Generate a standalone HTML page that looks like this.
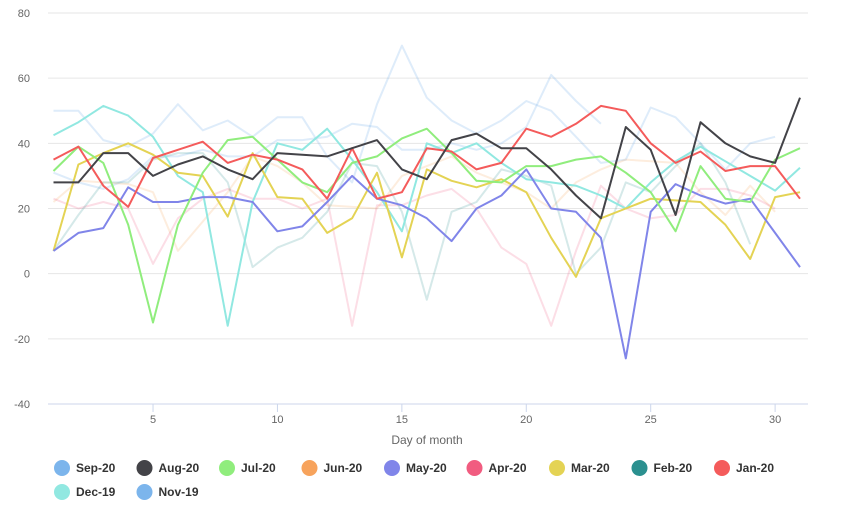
<!DOCTYPE html>
<html><head><meta charset="utf-8"><style>
body{margin:0;background:#fff;font-family:"Liberation Sans",sans-serif}
svg{display:block}
</style></head><body>
<svg id="chart" width="853" height="525"></svg>
<script>
const days=[];for(let d=1;d<=31;d++)days.push(d);
const yTicks=[80,60,40,20,0,-20,-40];
const xTicks=[5,10,15,20,25,30];
const seriesNames=["Sep-20","Aug-20","Jul-20","Jun-20","May-20","Apr-20","Mar-20","Feb-20","Jan-20","Dec-19","Nov-19"];
const seriesColors=["#7cb5ec","#434348","#90ed7d","#f7a35c","#8085e9","#f15c80","#e4d354","#2b908f","#f45b5b","#91e8e1","#7cb5ec"];
const seriesOpacity=[0.25,1,1,0.2,1,0.2,1,0.2,1,1,0.25];
const sep20=[50,50,41,39,43,52,44,47,42,48,48,36,28,52,70,54,47,43,47,53,50,42,34,35,51,48,40,32,40,42];
const aug20=[28,28,37,37,30,33.5,36,32,29,37,36.5,36,38.5,41,32,29,41,43,38.5,38.5,32,24,17,45,38,18,46.5,40,36,34,54];
const jul20=[31.5,39,34,15,-15,15,31,41,42,35,28,25,34,36,41.5,44.5,37,28.5,28,33,33,35,36,31,25,13,33,23,22,35,38.5];
const jun20=[22,28.5,28,27.5,25,7,16,25,36,33,28,21,20.5,20,30,33,36,31,28,25,20,28,32,35,34.5,34,25,18,27,19];
const may20=[7,12.5,14,26.5,22,22,23.5,23.5,22,13,14.5,22,30,23,21,17,10,20,24,32,20,19,11,-26,19,27.5,24,21.5,23,12.5,2];
const apr20=[23,20,22,20,3,17,23,26,23,23,20,23,-16,21,21,24,26,20,8,3,-16,7,27,20,17,18,26,26,24,20];
const mar20=[7,33.5,37,40,36.5,31,30,17.5,37,23.5,23,12.5,17,31,5,32,28.5,26.5,29,25,11,-1,17,20,23,22.5,22,15,4.5,23.5,25];
const feb20=[7,18,28,28,35,37,37,28,2,8,11,19,34,33,19,-8,19,22,32,30,27,0,8,28,25,33,40,28,9];
const jan20=[35,39,27,20.5,35.5,38,40.5,34,36.5,35,32,23,38.5,23,25,38.5,37.5,32,34,44.5,42,46,51.5,50,40,34,37.5,31.5,33,33,23];
const dec19=[42.5,46.5,51.5,48.5,42,30,25,-16,22,40,38,44.5,35,25,13,40,37,40,34,29,28,27,24,20,28,34.5,39,34.5,30,25.5,32.5];
const nov19=[31,28,26,29,36,36,38,36,36,41,41,42,46,45,38,38,40,38,40,45,61,53,46];
const seriesData=[sep20,aug20,jul20,jun20,may20,apr20,mar20,feb20,jan20,dec19,nov19];

const NS="http://www.w3.org/2000/svg";
const svg=document.getElementById('chart');
const X0=53.5,X1=800,Y0=13,Y1=404,VMAX=80,VMIN=-40;
const xs=d=>X0+(d-1)*(X1-X0)/30;
const ys=v=>Y0+(VMAX-v)*(Y1-Y0)/(VMAX-VMIN);
function mk(tag,attrs,parent){const e=document.createElementNS(NS,tag);for(const k in attrs)e.setAttribute(k,attrs[k]);(parent||svg).appendChild(e);return e;}

const grid=mk('g',{});


yTicks.forEach(v=>{
  const l=mk('line',{x1:48,x2:808,y1:ys(v),y2:ys(v),stroke:'#e6e6e6','stroke-width':1},grid);
  
  
  const t=mk('text',{x:30,y:ys(v)+4,'text-anchor':'end','font-size':11,fill:'#666'});
  t.textContent=v;
  
  
});
const ax=mk('line',{x1:48,x2:808,y1:Y1,y2:Y1,stroke:'#ccd6eb','stroke-width':1});


xTicks.forEach(d=>{
  const tk=mk('line',{x1:xs(d),x2:xs(d),y1:Y1,y2:Y1+8,stroke:'#ccd6eb'});
  
  
  const t=mk('text',{x:xs(d),y:Y1+19,'text-anchor':'middle','font-size':11,fill:'#666'});
  t.textContent=d;
  
  
});
const xt=mk('text',{x:427,y:444,'text-anchor':'middle','font-size':12,fill:'#666'});
xt.textContent='Day of month';



const order=[0,10,3,5,7,9,6,4,2,8,1];
order.forEach(i=>{
  const pts=seriesData[i].map((v,j)=>xs(j+1).toFixed(1)+','+ys(v).toFixed(1)).join(' ');
  const p=mk('polyline',{points:pts,fill:'none',stroke:seriesColors[i],'stroke-width':2,'stroke-opacity':seriesOpacity[i],'stroke-linejoin':'round'});
  
  
});

seriesNames.forEach((n,i)=>{
  const row=Math.floor(i/9),col=i%9;
  const cx=62+col*82.5,cy=468+row*24;
  const g=mk('g',{});
  
  
  mk('circle',{cx:cx,cy:cy,r:8,fill:seriesColors[i]},g);
  const t=mk('text',{x:cx+14,y:cy+4,'font-size':12,'font-weight':'bold',fill:'#333'},g);
  t.textContent=n;
});
</script>
</body></html>
